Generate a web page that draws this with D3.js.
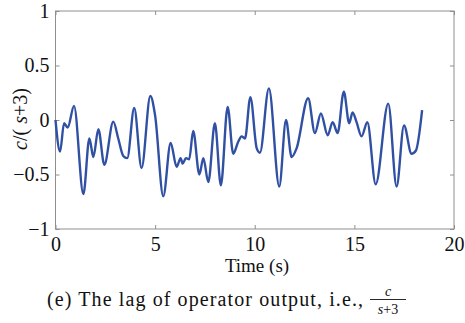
<!DOCTYPE html>
<html><head><meta charset="utf-8">
<script src="https://cdn.jsdelivr.net/npm/d3@7"></script>
<style>body{margin:0;background:#fff;} svg{display:block;}</style>
</head><body>
<svg id="c" width="465" height="323"></svg>
<script>
const time = [0,0.23,0.43,0.61,0.93,1.4,1.7,1.9,2.15,2.45,2.9,3.15,3.4,3.6,3.95,4.32,4.76,5.0,5.41,5.78,6.08,6.28,6.38,6.55,6.71,6.91,7.22,7.42,7.67,8.0,8.3,8.64,8.92,9.17,9.34,9.51,9.78,10.1,10.26,10.71,11.23,11.57,11.85,12.1,12.68,13.02,13.32,13.66,13.91,14.16,14.47,14.74,14.91,15.11,15.36,15.65,16.07,16.7,17.12,17.49,17.87,18.09,18.4];
const value = [0,-0.29,-0.03,-0.07,0.13,-0.68,-0.17,-0.34,-0.085,-0.41,-0.015,-0.17,-0.33,-0.35,0.11,-0.44,0.22,0.04,-0.70,-0.21,-0.43,-0.35,-0.40,-0.35,-0.36,-0.10,-0.50,-0.35,-0.57,-0.03,-0.60,0.12,-0.31,-0.20,-0.15,-0.17,0.21,-0.26,-0.30,0.29,-0.61,0.0,-0.34,-0.26,0.20,-0.12,0.06,-0.14,-0.02,-0.12,0.26,-0.03,0.07,-0.02,-0.15,-0.02,-0.59,0.15,-0.61,-0.05,-0.31,-0.28,0.09];
const xTicks = [0,5,10,15,20];
const yTicks = [-1,-0.5,0,0.5,1];
const xLabel = "Time (s)";

const svg = d3.select("#c");
const L=55.5, R=454, T=11, B=229;
const x = d3.scaleLinear().domain([0,20]).range([L,R]);
const y = d3.scaleLinear().domain([-1,1]).range([B,T]);
const axisColor = "#8f8f8f";
const font = "'Liberation Serif', 'Times New Roman', serif";
const fmt = v => (v<0?"\u2212":"") + Math.abs(v);

svg.append("rect").attr("x",L).attr("y",T).attr("width",R-L).attr("height",B-T)
  .attr("fill","none").attr("stroke",axisColor).attr("stroke-width",1);

const gx = svg.append("g").attr("transform",`translate(0,${B})`)
  .call(d3.axisBottom(x).tickValues(xTicks).tickSize(-4).tickPadding(8).tickFormat(fmt));
const gy = svg.append("g").attr("transform",`translate(${L},0)`)
  .call(d3.axisLeft(y).tickValues(yTicks).tickSize(-4).tickPadding(6).tickFormat(fmt));
svg.append("g").attr("transform",`translate(0,${T})`)
  .call(d3.axisTop(x).tickValues(xTicks).tickSize(-4).tickFormat(""));
svg.append("g").attr("transform",`translate(${R},0)`)
  .call(d3.axisRight(y).tickValues(yTicks).tickSize(-4).tickFormat(""));
svg.selectAll("g").attr("font-family",font);
svg.selectAll(".domain").remove();
svg.selectAll(".tick line").attr("stroke",axisColor);
svg.selectAll(".tick text").attr("font-family",font).attr("font-size",20).attr("fill","#111");
gx.selectAll(".tick text").attr("dy","0.68em");

const line = d3.line().x((d,i)=>x(time[i])).y(d=>y(d)).curve(d3.curveMonotoneX);
svg.append("path").datum(value).attr("d",line)
  .attr("fill","none").attr("stroke","#3050a3").attr("stroke-width",2.4)
  .attr("stroke-linejoin","round");

svg.append("text").attr("x",257).attr("y",272).attr("text-anchor","middle")
  .attr("font-family",font).attr("font-size",19).attr("fill","#111").text(xLabel);

const yl = svg.append("text").attr("transform","translate(27,119) rotate(-90)")
  .attr("text-anchor","middle").attr("font-family",font).attr("font-size",20).attr("fill","#111");
yl.append("tspan").attr("font-style","italic").text("c");
yl.append("tspan").text("/( ");
yl.append("tspan").attr("font-style","italic").text("s");
yl.append("tspan").text("+3)");

svg.append("text").attr("x",47).attr("y",306).attr("font-family",font).attr("font-size",20)
  .attr("fill","#111").attr("textLength",316).attr("lengthAdjust","spacing")
  .text("(e) The lag of operator output, i.e.,");
const fx = 388;
svg.append("text").attr("x",fx).attr("y",296).attr("text-anchor","middle").attr("font-family",font)
  .attr("font-size",14).attr("font-style","italic").attr("fill","#111").text("c");
svg.append("line").attr("x1",fx-18).attr("x2",fx+18).attr("y1",299.5).attr("y2",299.5)
  .attr("stroke","#111").attr("stroke-width",0.9);
const den = svg.append("text").attr("x",fx).attr("y",314).attr("text-anchor","middle")
  .attr("font-family",font).attr("font-size",14).attr("fill","#111");
den.append("tspan").attr("font-style","italic").text("s");
den.append("tspan").text("+3");
</script>
</body></html>
